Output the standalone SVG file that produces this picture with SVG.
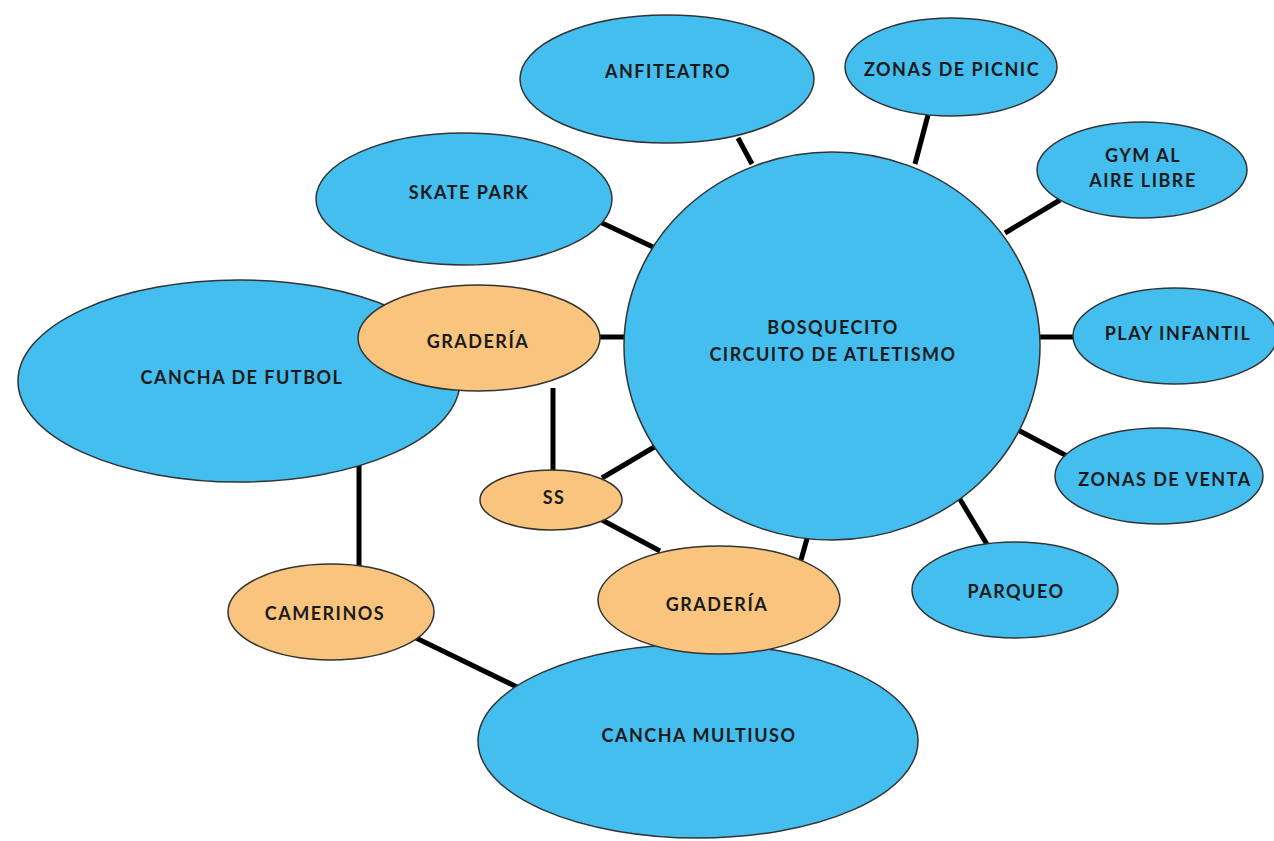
<svg xmlns="http://www.w3.org/2000/svg" width="1274" height="841" viewBox="0 0 1274 841">
<style>
.b{fill:#43BEEF;stroke:#333;stroke-width:1.5}
.o{fill:#F9C47D;stroke:#333;stroke-width:1.5}
.t{font-family:Lato,"Liberation Sans",sans-serif;font-weight:700;font-size:18px;fill:#1a1a1a;text-anchor:middle;letter-spacing:1.5px}
#connectors line{stroke:#000;stroke-width:5;stroke-linecap:butt}
</style>
<rect width="1274" height="841" fill="#fff"/>
<g id="connectors">
<line x1="738" y1="138" x2="752" y2="164"/>
<line x1="928" y1="115" x2="915" y2="164"/>
<line x1="1005" y1="233" x2="1060" y2="200"/>
<line x1="600" y1="222" x2="653" y2="247"/>
<line x1="1038" y1="337" x2="1075" y2="337"/>
<line x1="1018" y1="430" x2="1067" y2="456"/>
<line x1="958" y1="496" x2="988" y2="546"/>
<line x1="598" y1="337" x2="626" y2="337"/>
<line x1="602" y1="478" x2="656" y2="446"/>
<line x1="808" y1="535" x2="801" y2="560"/>
<line x1="553" y1="388" x2="553" y2="472"/>
<line x1="602" y1="520" x2="660" y2="551"/>
<line x1="359" y1="465" x2="359" y2="567"/>
<line x1="414" y1="637" x2="517" y2="687"/>
</g>
<g id="n-anfiteatro"><ellipse class="b" cx="667" cy="79" rx="147" ry="64"/><text class="t" x="668" y="78">ANFITEATRO</text></g>
<g id="n-picnic"><ellipse class="b" cx="951" cy="67" rx="106" ry="49"/><text class="t" x="952" y="76">ZONAS DE PICNIC</text></g>
<g id="n-gym"><ellipse class="b" cx="1142" cy="170" rx="105" ry="48"/><text class="t" x="1143" y="162">GYM AL</text><text class="t" x="1143" y="187">AIRE LIBRE</text></g>
<g id="n-skate"><ellipse class="b" cx="464" cy="199" rx="148" ry="66"/><text class="t" x="469" y="199">SKATE PARK</text></g>
<g id="n-center"><ellipse class="b" cx="832" cy="346" rx="208" ry="194"/><text class="t" x="833" y="334">BOSQUECITO</text><text class="t" x="833" y="361">CIRCUITO DE ATLETISMO</text></g>
<g id="n-play"><ellipse class="b" cx="1175" cy="336" rx="102" ry="48"/><text class="t" x="1178" y="340">PLAY INFANTIL</text></g>
<g id="n-venta"><ellipse class="b" cx="1159" cy="476" rx="104" ry="48"/><text class="t" x="1165" y="486">ZONAS DE VENTA</text></g>
<g id="n-parqueo"><ellipse class="b" cx="1015" cy="590" rx="103" ry="48"/><text class="t" x="1016" y="598">PARQUEO</text></g>
<g id="n-futbol"><ellipse class="b" cx="239" cy="381" rx="221" ry="101"/><text class="t" x="242" y="384">CANCHA DE FUTBOL</text></g>
<g id="n-graderia1"><ellipse class="o" cx="479" cy="338" rx="121" ry="53"/><text class="t" x="478" y="348">GRADERÍA</text></g>
<g id="n-ss"><ellipse class="o" cx="551" cy="500" rx="71" ry="30"/><text class="t" x="554" y="504">SS</text></g>
<g id="n-camerinos"><ellipse class="o" cx="331" cy="612" rx="103" ry="48"/><text class="t" x="325" y="620">CAMERINOS</text></g>
<g id="n-multiuso"><ellipse class="b" cx="698" cy="741" rx="220" ry="97"/><text class="t" x="699" y="742">CANCHA MULTIUSO</text></g>
<g id="n-graderia2"><ellipse class="o" cx="719" cy="600" rx="121" ry="54"/><text class="t" x="717" y="611">GRADERÍA</text></g>
</svg>
